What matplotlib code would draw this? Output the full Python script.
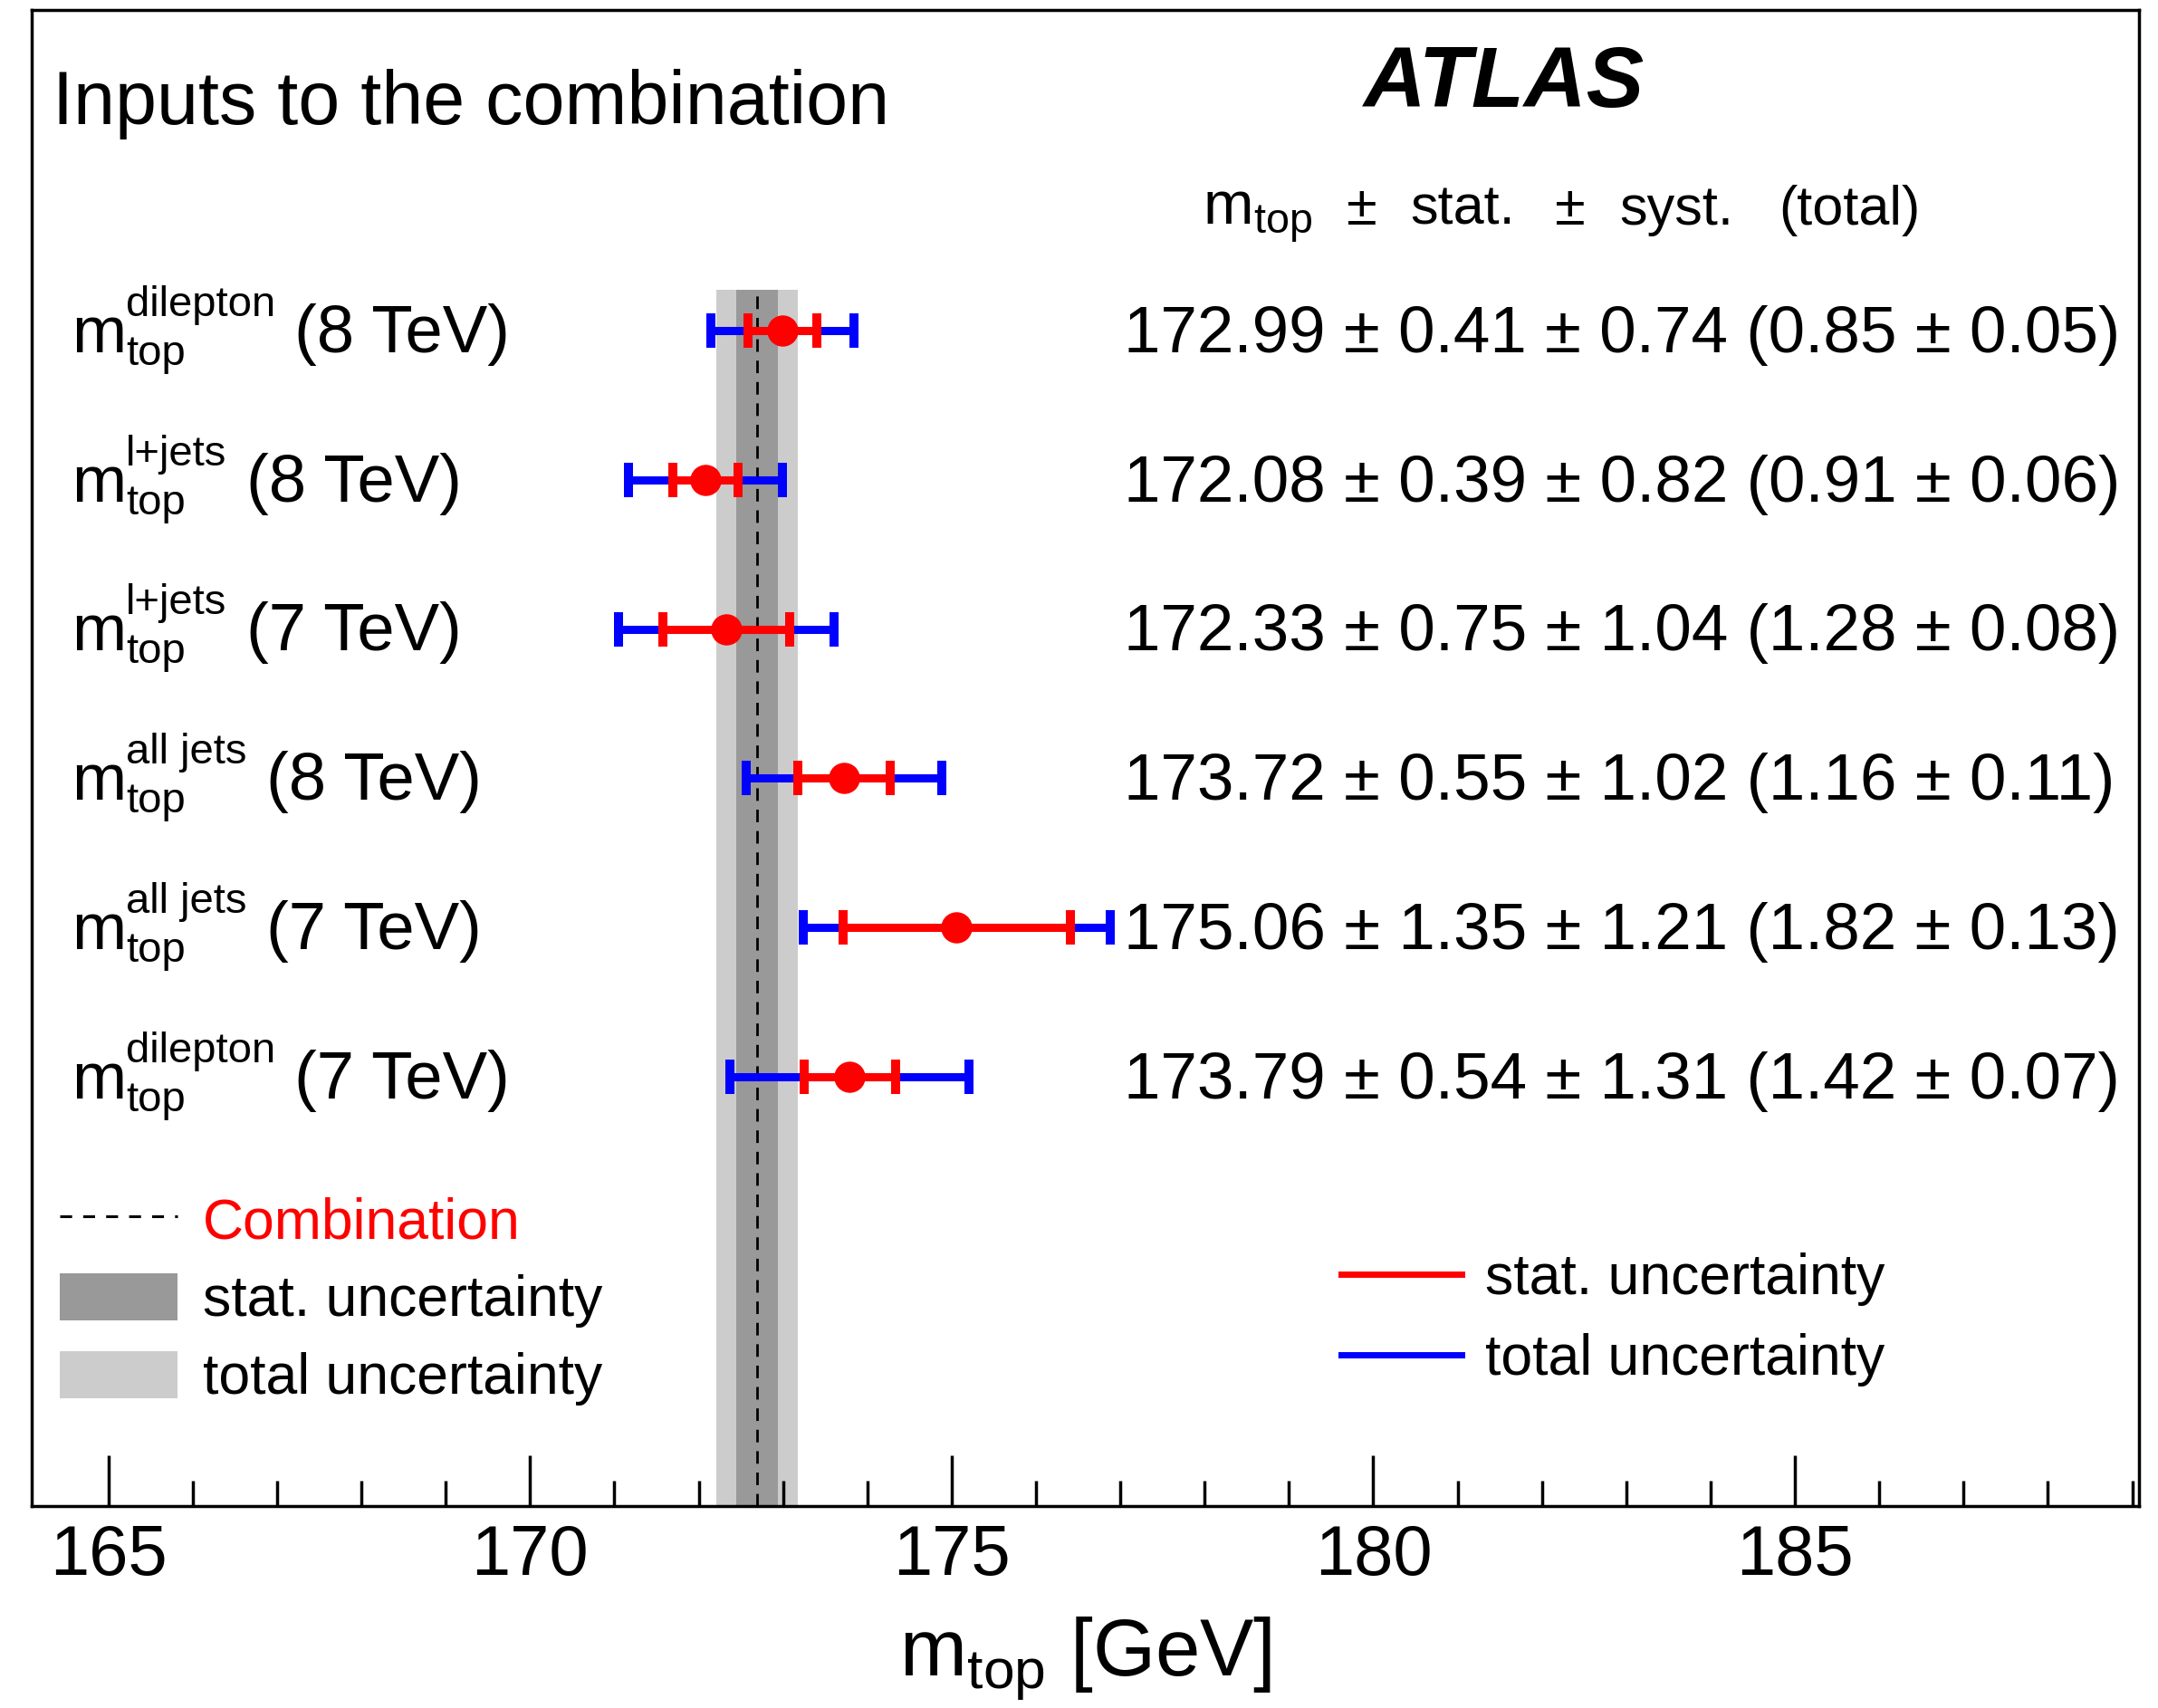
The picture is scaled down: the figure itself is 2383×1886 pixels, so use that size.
import numpy as np
import matplotlib
matplotlib.use("Agg")
import matplotlib.pyplot as plt
from matplotlib.lines import Line2D
from matplotlib.patches import Patch
from matplotlib.ticker import MultipleLocator

# measurements (top row first)
channels = ["dilepton", "l+jets", "l+jets", "all jets", "all jets", "dilepton"]
energies = ["8 TeV", "8 TeV", "7 TeV", "8 TeV", "7 TeV", "7 TeV"]
mtop  = [172.99, 172.08, 172.33, 173.72, 175.06, 173.79]
stat  = [0.41, 0.39, 0.75, 0.55, 1.35, 0.54]
syst  = [0.74, 0.82, 1.04, 1.02, 1.21, 1.31]
total = [0.85, 0.91, 1.28, 1.16, 1.82, 1.42]
total_err = [0.05, 0.06, 0.08, 0.11, 0.13, 0.07]

# combination
comb_val   = 172.69
comb_stat  = 0.25
comb_total = 0.48

# header pieces
header = ["\u00b1", "stat.", "\u00b1", "syst.", "(total)"]
header_x = [1487, 1557, 1717, 1788, 1964]

W, H = 2383, 1886

def fx(x):
    return x / W

def fy(y):
    return 1 - y / H

plt.rcParams["font.family"] = ["Liberation Sans", "DejaVu Sans"]
plt.rcParams["mathtext.fontset"] = "custom"
plt.rcParams["mathtext.rm"] = "Liberation Sans"
plt.rcParams["mathtext.it"] = "Liberation Sans:italic"
plt.rcParams["mathtext.bf"] = "Liberation Sans:bold"
plt.rcParams["mathtext.sf"] = "Liberation Sans"

fig = plt.figure(figsize=(W / 100, H / 100), dpi=100)
ax = fig.add_axes([fx(35), fy(1663), fx(2362) - fx(35), fy(11) - fy(1663)])

n = len(mtop)
y = np.arange(n)[::-1]
ylo, yhi = -2.873, 7.145
band_top = (n - 1 + 0.273 - ylo) / (yhi - ylo)

# combination band
ax.axvspan(comb_val - comb_total, comb_val + comb_total, ymin=0, ymax=band_top,
           color="#cccccc", lw=0, zorder=1)
ax.axvspan(comb_val - comb_stat, comb_val + comb_stat, ymin=0, ymax=band_top,
           color="#999999", lw=0, zorder=1)
ax.axvline(comb_val, ymin=0, ymax=band_top, color="black", lw=2.0,
           ls=(0, (5, 3.5)), zorder=2)

# inputs
ax.errorbar(mtop, y, xerr=total, fmt="none", ecolor="blue", elinewidth=6.5,
            capsize=13.7, capthick=7.2, zorder=3)
ax.errorbar(mtop, y, xerr=stat, fmt="o", color="red", ms=23.8, elinewidth=6.5,
            capsize=13.7, capthick=7.2, zorder=4)

ax.set_xlim(164.09, 189.08)
ax.set_ylim(ylo, yhi)
ax.set_yticks([])
ax.xaxis.set_major_locator(MultipleLocator(5))
ax.xaxis.set_minor_locator(MultipleLocator(1))
ax.tick_params(axis="x", which="major", direction="in", length=40, width=2.5,
               labelsize=56, pad=14, top=False)
ax.tick_params(axis="x", which="minor", direction="in", length=20, width=2.5, top=False)
for sp in ax.spines.values():
    sp.set_linewidth(2.5)
ax.set_xlabel(r"$\mathrm{m}_{\mathrm{top}}$ [GeV]", fontsize=64, labelpad=20)

# row labels (m with stacked sub/superscript) and values
renderer = fig.canvas.get_renderer()
for i in range(n):
    yb = ax.transData.transform((0, y[i] - 0.145))[1]   # baseline, display px
    tm = fig.text(fx(79), yb / H, "m", fontsize=52, va="baseline")
    x1 = tm.get_window_extent(renderer).x1
    tsub = fig.text(x1 / W, (yb - 14) / H, "top", fontsize=34, va="baseline")
    tsup = fig.text(x1 / W, (yb + 40) / H, channels[i], fontsize=34, va="baseline")
    xe = max(tsub.get_window_extent(renderer).x1, tsup.get_window_extent(renderer).x1)
    fig.text((xe + 21) / W, yb / H, "(%s)" % energies[i], fontsize=53.5, va="baseline")
    val = "%.2f \u00b1 %.2f \u00b1 %.2f (%.2f \u00b1 %.2f)" % (
        mtop[i], stat[i], syst[i], total[i], total_err[i])
    fig.text(fx(1241), yb / H, val, fontsize=52.5, va="baseline")

# titles
fig.text(fx(58), fy(137), "Inputs to the combination", fontsize=59.5, va="baseline")
fig.text(fx(1506), fy(118), "ATLAS", fontsize=68.5, fontweight="bold",
         style="italic", va="baseline")
fig.text(fx(1328), fy(248), r"$\mathrm{m}_{\mathrm{top}}$", fontsize=48, va="baseline")
for s, hx in zip(header, header_x):
    fig.text(fx(hx), fy(248), s, fontsize=44, va="baseline")

# legends
leg1 = ax.legend(
    handles=[Line2D([], [], color="black", lw=2.2, ls=(0, (4.3, 4))),
             Patch(facecolor="#999999", edgecolor="none"),
             Patch(facecolor="#cccccc", edgecolor="none")],
    labels=["Combination", "stat. uncertainty", "total uncertainty"],
    loc="center left", bbox_to_anchor=(fx(66), fy(1436)), bbox_transform=fig.transFigure,
    frameon=False, fontsize=45, handlelength=2.08, handleheight=0.9,
    handletextpad=0.45, labelspacing=0.41, borderpad=0, borderaxespad=0)
leg1.get_texts()[0].set_color("red")
ax.add_artist(leg1)

leg2 = ax.legend(
    handles=[Line2D([], [], color="red", lw=5), Line2D([], [], color="blue", lw=5)],
    labels=["stat. uncertainty", "total uncertainty"],
    loc="center left", bbox_to_anchor=(fx(1481), fy(1457)), bbox_transform=fig.transFigure,
    frameon=False, fontsize=45, handlelength=2.13, handletextpad=0.42,
    labelspacing=0.48, borderpad=0, borderaxespad=0)

fig.savefig("out.png", dpi=100)
